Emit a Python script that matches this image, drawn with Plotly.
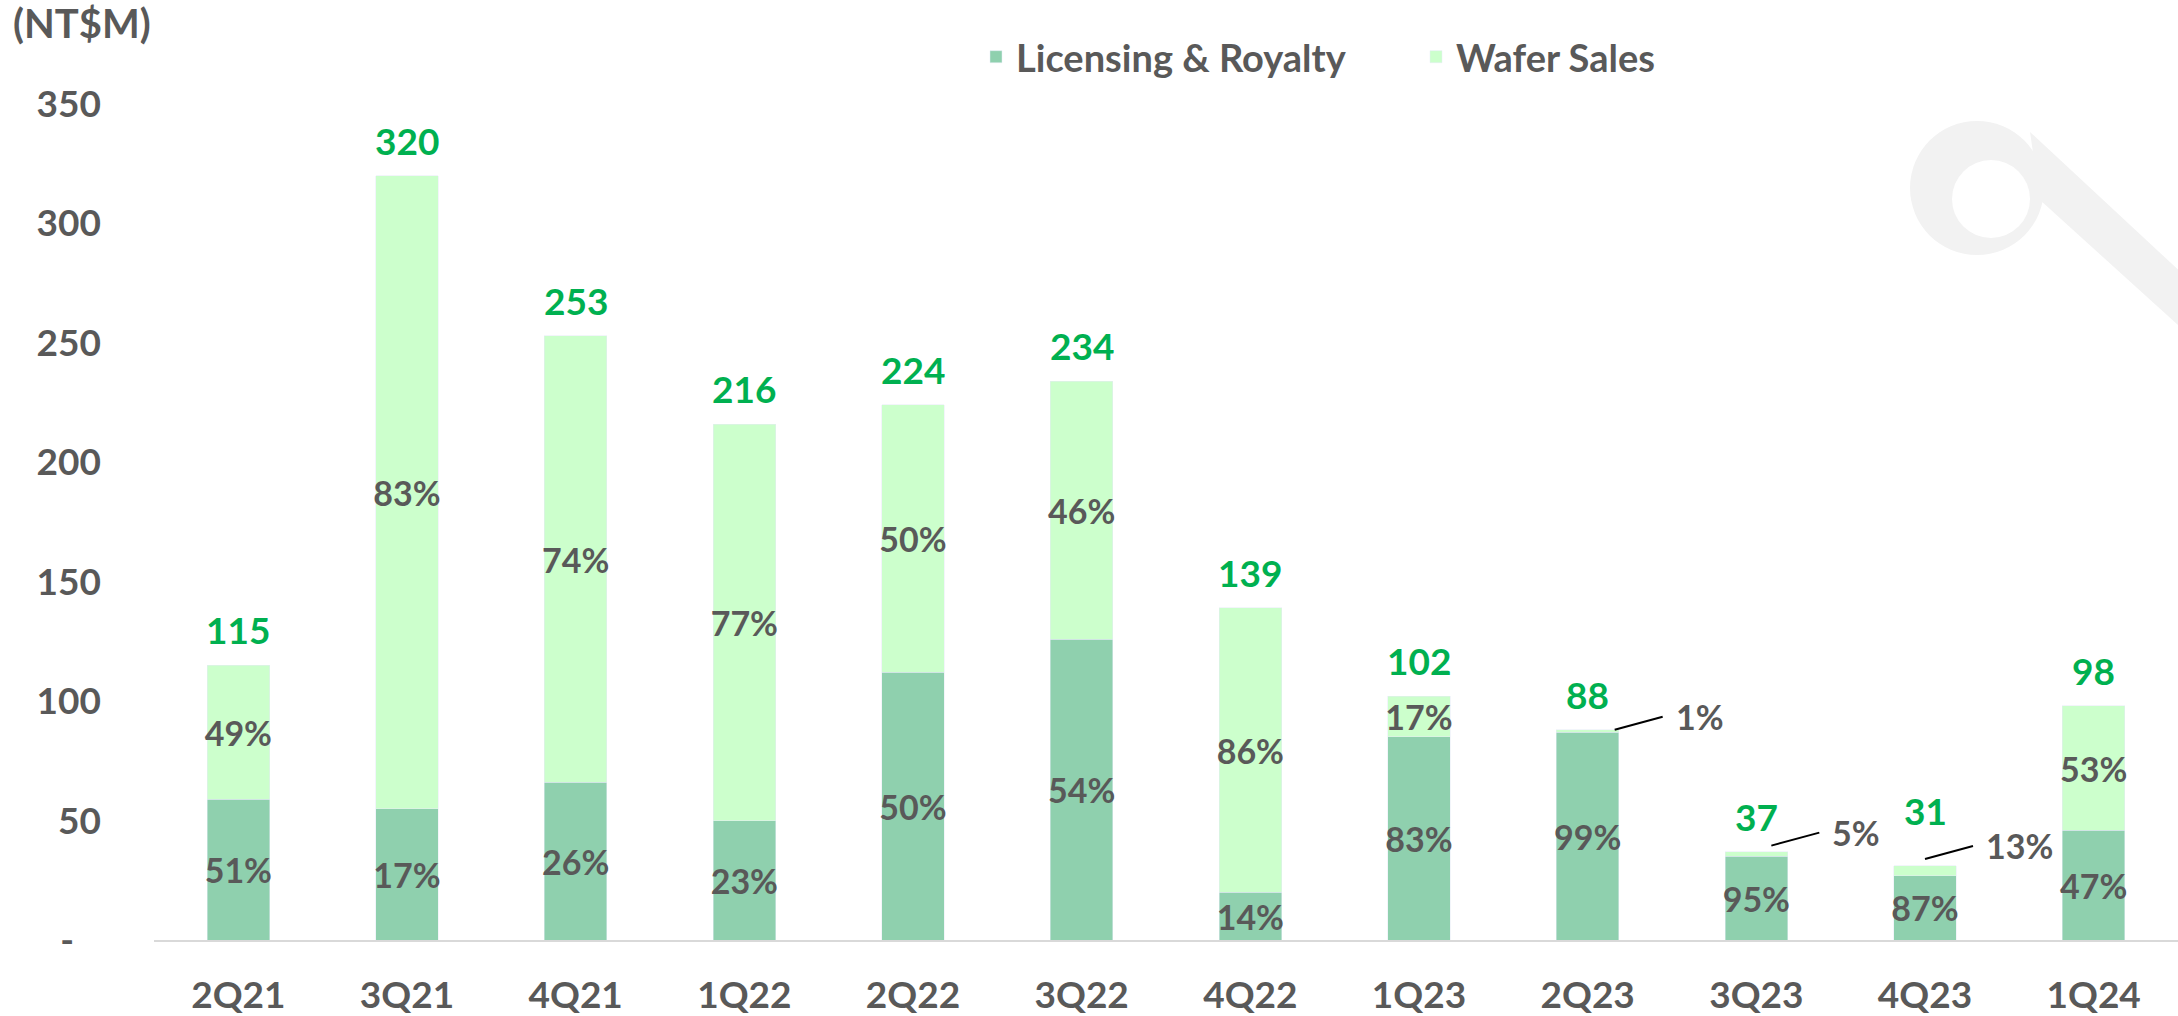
import plotly.graph_objects as go

# ---- data ----
quarters = ["2Q21", "3Q21", "4Q21", "1Q22", "2Q22", "3Q22", "4Q22", "1Q23", "2Q23", "3Q23", "4Q23", "1Q24"]
licensing = [59, 55, 66, 50, 112, 126, 20, 85, 87, 35, 27, 46]
wafer = [56, 265, 187, 166, 112, 108, 119, 17, 1, 2, 4, 52]
totals = [115, 320, 253, 216, 224, 234, 139, 102, 88, 37, 31, 98]
licensing_pct = ["51%", "17%", "26%", "23%", "50%", "54%", "14%", "83%", "99%", "95%", "87%", "47%"]
wafer_pct = ["49%", "83%", "74%", "77%", "50%", "46%", "86%", "17%", "1%", "5%", "13%", "53%"]
y_tickvals = [0, 50, 100, 150, 200, 250, 300, 350]
y_ticktext = ["-\u00a0\u00a0\u00a0", "50", "100", "150", "200", "250", "300", "350"]

# ---- style ----
FONT = "Lato, 'Open Sans', sans-serif"
GRAY = "#595959"
GREEN_TXT = "#00B050"
C_LIC = "#8FD0AE"
C_WAF = "#CCFFCC"
W, H = 2178, 1016
ML, MR, MT, MB = 154, 0, 104, 76
PW, PH = W - ML - MR, H - MT - MB

# wafer labels placed outside with leader lines (index -> (xshift, yshift))
callouts = {8: (27, 0), 9: (15, 6), 10: (0, 7)}
# extra lift (px) of some total labels
total_lift = {10: 20}

wafer_inside = [("" if i in callouts else t) for i, t in enumerate(wafer_pct)]


def px(xp):
    return (xp - ML) / PW


def py(yp):
    return (H - MB - yp) / PH


fig = go.Figure()
fig.add_trace(go.Bar(
    name="Licensing & Royalty", x=quarters, y=licensing, marker_color=C_LIC,
    text=licensing_pct, textposition="inside", insidetextanchor="middle",
    constraintext="none", textangle=0,
    textfont=dict(family=FONT, size=34, color=GRAY, weight="bold"),
    hoverinfo="x+y",
))
fig.add_trace(go.Bar(
    name="Wafer Sales", x=quarters, y=wafer, marker_color=C_WAF,
    text=wafer_inside, textposition="inside", insidetextanchor="middle",
    constraintext="none", textangle=0,
    textfont=dict(family=FONT, size=34, color=GRAY, weight="bold"),
    hoverinfo="x+y",
))

annotations = []
for i, (q, t) in enumerate(zip(quarters, totals)):
    annotations.append(dict(
        x=q, y=t, xref="x", yref="y", text=str(t), showarrow=False,
        yanchor="bottom", yshift=11 + total_lift.get(i, 0),
        font=dict(family=FONT, size=37, color=GREEN_TXT, weight="bold"),
    ))
for i, (xs, ys) in callouts.items():
    annotations.append(dict(
        x=quarters[i], y=totals[i], xref="x", yref="y", text=wafer_pct[i],
        showarrow=True, arrowhead=0, arrowwidth=2, arrowcolor="#000000",
        ax=48, ay=-13, xanchor="left", xshift=xs, yshift=ys, borderpad=12,
        font=dict(family=FONT, size=34, color=GRAY, weight="bold"),
    ))
annotations.append(dict(
    x=px(11), y=py(23), xref="paper", yref="paper", text="(NT$M)", showarrow=False,
    xanchor="left", yanchor="middle",
    font=dict(family=FONT, size=40, color=GRAY, weight="bold"),
))

# decorative watermark (light gray ring + diagonal band)
ocx, ocy, ro = 1977, 188, 67
icx, icy, ri = 1991, 199, 39
shapes = [
    dict(type="circle", xref="paper", yref="paper", layer="below",
         x0=px(ocx - ro), x1=px(ocx + ro), y0=py(ocy + ro), y1=py(ocy - ro),
         fillcolor="#F2F2F2", line=dict(width=0)),
    dict(type="path", xref="paper", yref="paper", layer="below",
         path="M {},{} L {},{} L {},{} L {},{} Z".format(
             px(2030), py(132), px(2200), py(290), px(2200), py(345), px(2040), py(200)),
         fillcolor="#F2F2F2", line=dict(width=0)),
    dict(type="circle", xref="paper", yref="paper", layer="below",
         x0=px(icx - ri), x1=px(icx + ri), y0=py(icy + ri), y1=py(icy - ri),
         fillcolor="#FFFFFF", line=dict(width=0)),
]

fig.update_layout(
    barmode="stack", bargap=0.63,
    width=W, height=H,
    margin=dict(l=ML, r=MR, t=MT, b=MB, pad=0, autoexpand=False),
    paper_bgcolor="white", plot_bgcolor="rgba(0,0,0,0)",
    font=dict(family=FONT, color=GRAY),
    showlegend=True,
    legend=dict(
        orientation="h", x=px(976), y=py(57), xanchor="left", yanchor="middle",
        font=dict(family=FONT, size=38, color=GRAY, weight="bold"),
        bgcolor="rgba(0,0,0,0)", itemwidth=30, traceorder="normal",
        entrywidth=395, entrywidthmode="pixels",
    ),
    annotations=annotations,
    shapes=shapes,
)
fig.update_xaxes(
    showline=True, linecolor="#D9D9D9", linewidth=2, showgrid=False, zeroline=False,
    ticks="", ticklabelstandoff=22,
    tickfont=dict(family=FONT, size=37, color=GRAY, weight="bold"),
)
fig.update_yaxes(
    range=[0, 350], tickvals=y_tickvals, ticktext=y_ticktext,
    showgrid=False, zeroline=False, showline=False, ticks="", ticklabelstandoff=52,
    tickfont=dict(family=FONT, size=37, color=GRAY, weight="bold"),
)

fig.write_html(
    "out.html",
    config={"displayModeBar": False},
    post_script="document.body.style.margin='0px';document.body.style.overflow='hidden';",
)
